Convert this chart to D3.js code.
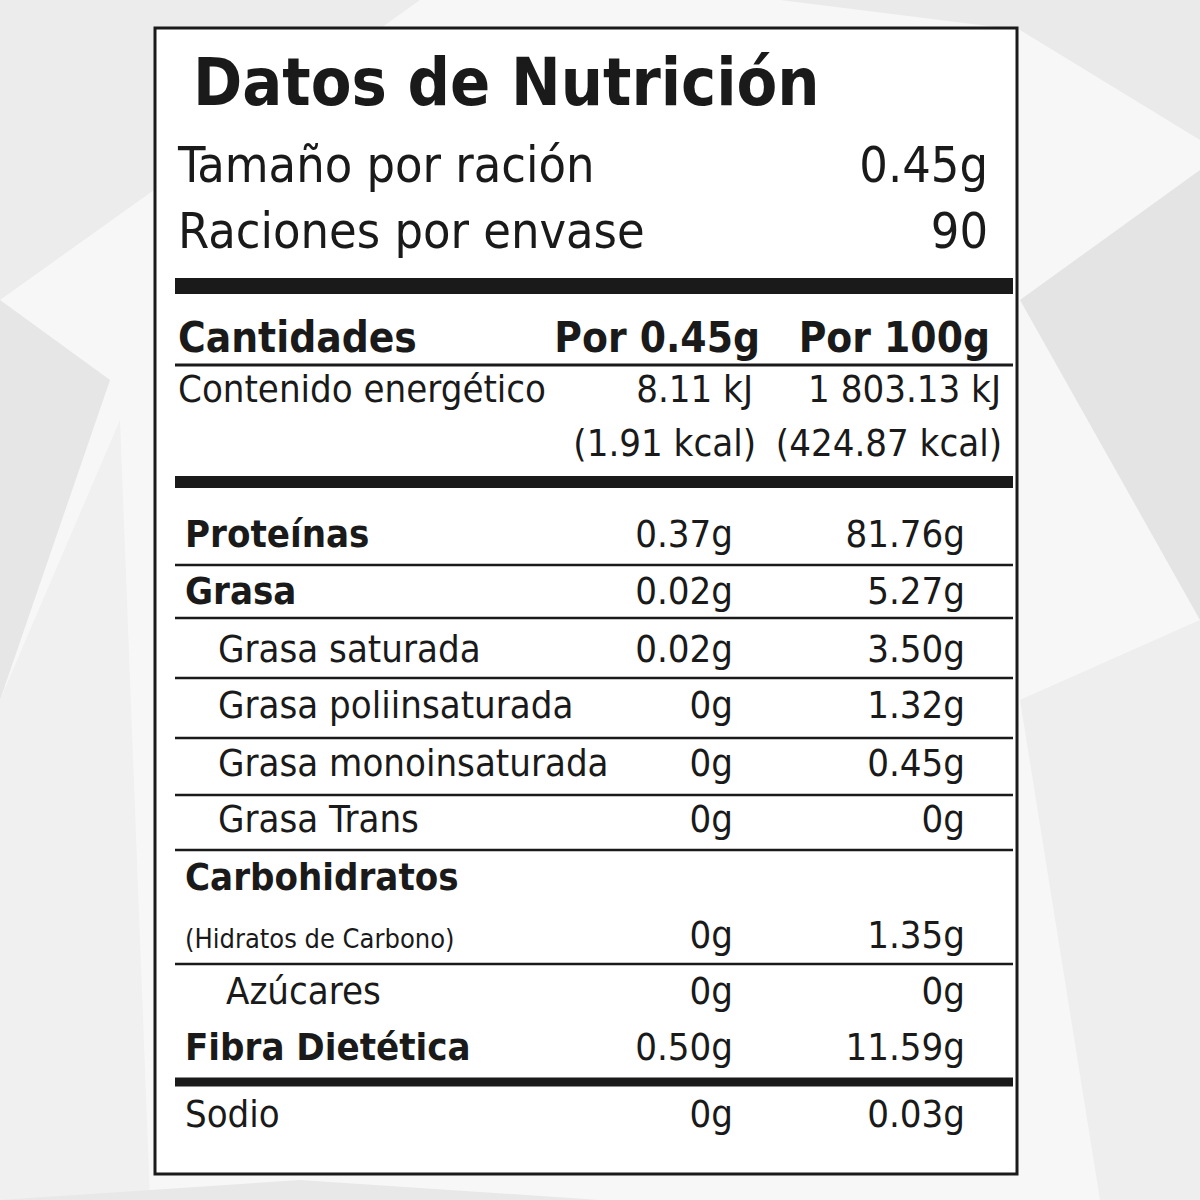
<!DOCTYPE html>
<html><head><meta charset="utf-8">
<script src="https://cdnjs.cloudflare.com/ajax/libs/d3/7.8.5/d3.min.js"></script>
<style>body{margin:0;background:#fff}svg{display:block}</style>
</head><body>
<svg id="c" width="1200" height="1200"></svg>
<script>
// label data
var servingLabels = ["Tamaño por ración", "Raciones por envase"];
var servingValues = ["0.45g", "90"];
var headers = ["Cantidades", "Por 0.45g", "Por 100g"];
var energy = ["Contenido energético", "8.11 kJ", "1 803.13 kJ", "(1.91 kcal)", "(424.87 kcal)"];

var nutrients = ["Proteínas", "Grasa", "Grasa saturada", "Grasa poliinsaturada", "Grasa monoinsaturada",
  "Grasa Trans", "Carbohidratos", "(Hidratos de Carbono)", "Azúcares", "Fibra Dietética", "Sodio"];
var perServing = ["0.37g", "0.02g", "0.02g", "0g", "0g", "0g", "", "0g", "0g", "0.50g", "0g"];
var per100 = ["81.76g", "5.27g", "3.50g", "1.32g", "0.45g", "0g", "", "1.35g", "0g", "11.59g", "0.03g"];
var level = [0, 0, 1, 1, 1, 1, 0, 2, 3, 0, 4]; // 0 bold, 1 indent, 2 small, 3 indent more, 4 plain
var baselines = [547, 604, 662, 718, 776, 832, 890, 948, 1004, 1060, 1127];
var ruleAfter = [565, 618, 678, 738, 795, 850, null, 964, null, null, null];

var font = "'Liberation Sans Narrow','DejaVu Sans Condensed',Roboto,sans-serif";
var svg = d3.select("#c");

// background facets
svg.append("rect").attr("width", 1200).attr("height", 1200).attr("fill", "#f7f7f7");
var polys = [
  [[0,0],[420,0],[0,300]], [[0,300],[110,380],[0,700]], [[0,700],[120,420],[150,1200],[0,1200]],
  [[780,0],[1200,0],[1200,140],[1020,30]], [[1020,300],[1200,170],[1200,620]],
  [[1020,700],[1200,620],[1200,1200],[1100,1200]], [[0,1200],[300,1180],[600,1200]]
];
var shades = ["#ececec","#e6e6e6","#f0f0f0","#eaeaea","#e4e4e4","#eeeeee","#e8e8e8"];
svg.selectAll("polygon.bg").data(polys).enter().append("polygon")
  .attr("points", function(d){ return d.map(function(p){return p.join(",");}).join(" "); })
  .attr("fill", function(d,i){ return shades[i]; });

// panel
svg.append("rect").attr("x", 155).attr("y", 28).attr("width", 862).attr("height", 1146)
  .attr("fill", "#fff").attr("stroke", "#1a1a1a").attr("stroke-width", 3);

var ink = "#1a1a1a";
function text(x, y, s, size, weight, anchor) {
  svg.append("text").attr("x", x).attr("y", y).text(s)
    .attr("font-family", font).attr("font-size", size).attr("font-weight", weight || "normal")
    .attr("text-anchor", anchor || "start").attr("fill", ink);
}
function rule(y, h) {
  svg.append("rect").attr("x", 175).attr("y", y - h / 2).attr("width", 838).attr("height", h).attr("fill", ink);
}

text(193, 105, "Datos de Nutrición", 66, "bold");
servingLabels.forEach(function(s, i) {
  text(178, 182 + i * 66, s, 50);
  text(988, 182 + i * 66, servingValues[i], 50, "normal", "end");
});
rule(286, 16);

text(178, 352, headers[0], 42, "bold");
text(760, 352, headers[1], 42, "bold", "end");
text(990, 352, headers[2], 42, "bold", "end");
rule(365, 3);

text(178, 402, energy[0], 38);
text(753, 402, energy[1], 38, "normal", "end");
text(1001, 402, energy[2], 38, "normal", "end");
text(756, 456, energy[3], 38, "normal", "end");
text(1002, 456, energy[4], 38, "normal", "end");
rule(482, 12);

var xs = { 0: 185, 1: 218, 2: 185, 3: 226, 4: 185 };
nutrients.forEach(function(n, i) {
  var lv = level[i];
  text(xs[lv], baselines[i], n, lv === 2 ? 27 : 38, lv === 0 ? "bold" : "normal");
  if (perServing[i]) text(733, baselines[i], perServing[i], 38, "normal", "end");
  if (per100[i]) text(965, baselines[i], per100[i], 38, "normal", "end");
  if (ruleAfter[i]) rule(ruleAfter[i], 2.5);
});
rule(1082, 9);
</script>
</body></html>
